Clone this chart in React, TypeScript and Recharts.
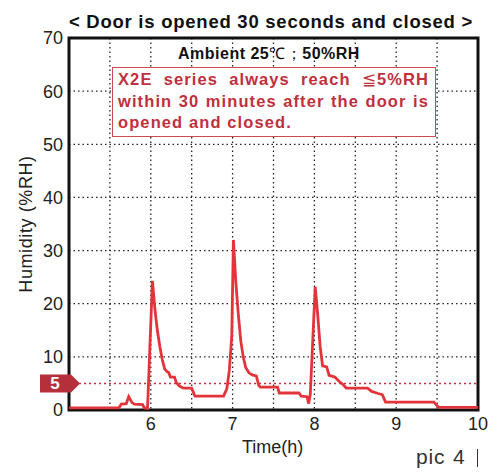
import React from "react";
import {
  LineChart,
  Line,
  XAxis,
  YAxis,
  CartesianGrid,
  ReferenceLine,
  ReferenceArea,
} from "recharts";

const timeH = [
  5.0, 5.61, 5.64, 5.7, 5.73, 5.77, 5.8, 5.9, 5.92, 5.96, 6.02, 6.05, 6.08,
  6.11, 6.14, 6.17, 6.2, 6.22, 6.24, 6.29, 6.31, 6.35, 6.4, 6.5, 6.54, 6.89,
  6.93, 6.96, 6.99, 7.01, 7.04, 7.07, 7.1, 7.13, 7.16, 7.2, 7.24, 7.29, 7.32,
  7.34, 7.55, 7.57, 7.81, 7.84, 7.91, 7.93, 7.95, 8.01, 8.04, 8.07, 8.1, 8.15,
  8.18, 8.25, 8.3, 8.35, 8.39, 8.65, 8.7, 8.78, 8.83, 8.87, 9.46, 9.52, 10.0,
];
const humidity = [
  0.4, 0.4, 1.1, 1.2, 2.5, 1.4, 1.1, 1.0, 0.4, 0.3, 24.3, 19, 15, 12, 9.5,
  7.7, 7.2, 7.0, 6.2, 6.2, 5.2, 4.5, 4.1, 4.1, 2.6, 2.6, 4, 7.5, 14, 32, 24,
  18, 13, 10, 8, 7, 6.6, 6.4, 4.6, 4.3, 4.3, 3.2, 3.2, 2.6, 2.5, 1.2, 3, 23.2,
  18, 12, 8.3, 8.1, 6.5, 6.2, 5.4, 4.8, 4.1, 4.1, 3.5, 3.1, 2.9, 1.5, 1.5,
  0.5, 0.5,
];
const xTicks = [5, 5.5, 6, 6.5, 7, 7.5, 8, 8.5, 9, 9.5, 10];
const xLabels = [6, 7, 8, 9, 10];
const yTicks = [0, 10, 20, 30, 40, 50, 60, 70];
const limitRH = 5;

const data = timeH.map((t, i) => ({ t, rh: humidity[i] }));

const FONT = '"Liberation Sans", Arial, sans-serif';
const RED = "#e3343c";
const DARK_RED = "#c0303c";

function LimitTag(props: any) {
  const { viewBox } = props;
  const x = viewBox.x;
  const y = viewBox.y;
  return (
    <g>
      <polygon
        points={`${x - 29},${y - 9} ${x + 2},${y - 9} ${x + 11},${y} ${x + 2},${y + 9} ${x - 29},${y + 9}`}
        fill="#b5303a"
      />
      <text
        x={x - 14}
        y={y + 6}
        textAnchor="middle"
        fill="#fff"
        fontWeight="bold"
        fontSize={17}
        fontFamily={FONT}
      >
        {limitRH}
      </text>
    </g>
  );
}

export default function App() {
  return (
    <div
      style={{
        position: "absolute",
        left: 0,
        top: 0,
        width: 497,
        height: 473,
        fontFamily: FONT,
        background: "#fff",
      }}
    >
      <LineChart
        width={497}
        height={473}
        data={data}
        margin={{ top: 38, right: 19, left: 0, bottom: 0 }}
      >
        <CartesianGrid
          stroke="#222"
          strokeDasharray="1.5 3"
          strokeWidth={1.3}
        />
        <XAxis
          dataKey="t"
          type="number"
          domain={[5, 10]}
          ticks={xTicks}
          tickFormatter={(v: number) => (xLabels.includes(v) ? String(v) : "")}
          height={63}
          tickLine={false}
          axisLine={false}
          tick={{ fill: "#222", fontSize: 18, fontFamily: FONT }}
          tickMargin={1}
        />
        <YAxis
          type="number"
          domain={[0, 70]}
          ticks={yTicks}
          width={69}
          tickLine={false}
          axisLine={false}
          tick={{ fill: "#222", fontSize: 18, fontFamily: FONT }}
          tickSize={4}
          tickMargin={2}
          label={{
            value: "Humidity (%RH)",
            angle: -90,
            position: "insideLeft",
            offset: 26,
            style: {
              textAnchor: "middle",
              fill: "#222",
              fontSize: 18,
              letterSpacing: 0.6,
              fontFamily: FONT,
            },
          }}
        />
        <ReferenceLine
          y={limitRH}
          stroke={DARK_RED}
          strokeDasharray="2 3"
          strokeWidth={1.5}
          label={<LimitTag />}
        />
        <Line
          type="linear"
          dataKey="rh"
          stroke={RED}
          strokeWidth={2.8}
          dot={false}
          isAnimationActive={false}
        />
        <ReferenceArea
          x1={5}
          x2={10}
          y1={0}
          y2={70}
          fill="none"
          stroke="#111"
          strokeWidth={3}
          fillOpacity={0}
        />
      </LineChart>

      <div
        style={{
          position: "absolute",
          left: 0,
          width: 542,
          top: 10.5,
          textAlign: "center",
          fontSize: 18.5,
          lineHeight: "22px",
          letterSpacing: 0.75,
          fontWeight: "bold",
          color: "#111",
          whiteSpace: "nowrap",
        }}
      >
        {"< Door is opened 30 seconds and closed >"}
      </div>

      <div
        style={{
          position: "absolute",
          left: 178,
          top: 43.5,
          fontSize: 16,
          lineHeight: "20px",
          letterSpacing: 0.5,
          color: "#111",
          whiteSpace: "nowrap",
        }}
      >
        <b>Ambient 25</b>℃；<b>50%RH</b>
      </div>

      <div
        style={{
          position: "absolute",
          left: 112,
          top: 67,
          width: 311,
          height: 65,
          padding: "1px 6px 2px 5px",
          border: `1.5px solid #cc4a52`,
          color: DARK_RED,
          fontWeight: "bold",
          fontSize: 16.5,
          letterSpacing: 1.1,
          lineHeight: "21.7px",
          background: "#fff",
          whiteSpace: "nowrap",
        }}
      >
        <div style={{ textAlign: "justify", textAlignLast: "justify" }}>
          X2E series always reach <span style={{ fontWeight: "normal" }}>≦</span>5%RH
        </div>
        <div style={{ textAlign: "justify", textAlignLast: "justify" }}>
          within 30 minutes after the door is
        </div>
        <div>opened and closed.</div>
      </div>

      <div
        style={{
          position: "absolute",
          left: 242,
          top: 437,
          fontSize: 18,
          lineHeight: "20px",
          color: "#222",
        }}
      >
        Time(h)
      </div>

      <div
        style={{
          position: "absolute",
          left: 416,
          top: 447,
          fontSize: 21,
          lineHeight: "20px",
          letterSpacing: 0.8,
          wordSpacing: 1,
          color: "#333",
          whiteSpace: "nowrap",
        }}
      >
        pic 4
      </div>
      <div
        style={{
          position: "absolute",
          left: 477,
          top: 449,
          width: 1.3,
          height: 18,
          background: "#333",
        }}
      />
    </div>
  );
}
